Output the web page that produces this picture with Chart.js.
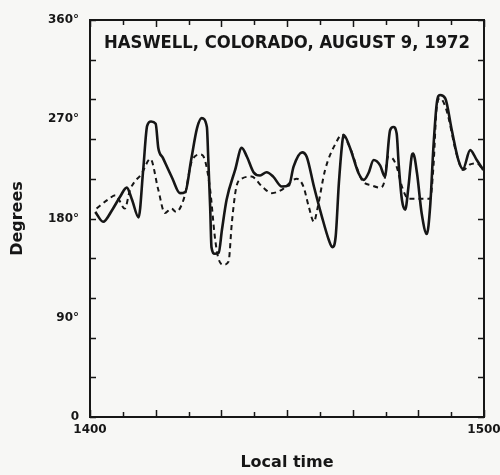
<!DOCTYPE html>
<html><head><meta charset="utf-8">
<script src="https://cdn.jsdelivr.net/npm/chart.js@4"></script>
<style>html,body{margin:0;padding:0;background:#f7f7f5;} #wrap{width:500px;height:475px;}</style>
</head><body><div id="wrap"><canvas id="c" width="500" height="475"></canvas></div>
<script>
// Local time in minutes after 1400, direction in degrees
const solidMinutes = [0.8,2.0,3.4,4.6,5.6,6.4,7.4,8.1,8.7,9.3,10.0,10.4,11.1,12.5,13.7,14.5,15.4,16.3,17.0,17.8,18.0,18.3,18.5,19.0,19.6,20.1,20.8,22.1,23.1,23.9,24.9,25.9,26.9,27.9,29.2,30.3,31.0,32.3,33.0,34.1,35.3,36.4,36.9,37.4,37.9,38.4,38.6,39.6,40.9,41.7,42.4,43.2,44.2,44.9,45.7,46.2,46.7,47.0,47.5,48.0,48.5,49.0,49.2,49.8,50.5,51.3,51.8,52.3,52.8,53.3,54.1,55.1,56.1,56.8,57.9,58.9,59.9];
const solidDegrees = [186,177,188,200,208,197,181,224,264,268,266,244,235,217,203,204,233,262,271,263,236,190,154,148,149,170,197,224,244,236,222,219,222,218,209,210,227,240,236,209,182,160,154,163,212,248,256,244,221,215,221,233,228,218,260,263,257,230,197,188,209,237,239,221,185,166,191,245,284,292,289,260,233,225,242,233,224];
const dashedMinutes = [1.0,2.7,3.9,5.3,6.1,7.9,9.2,10.4,11.4,12.4,13.1,14.4,15.5,16.8,17.5,18.3,19.0,19.5,20.3,21.1,21.6,22.3,23.1,24.6,26.2,27.7,29.2,31.5,32.5,33.3,34.1,34.6,35.8,37.4,38.4,39.6,41.4,42.9,44.2,44.8,45.4,46.0,46.7,47.5,48.5,50.1,51.8,52.3,52.8,53.3,54.3,55.8,56.8,57.9,58.9,59.9];
const dashedDegrees = [189,197,201,189,206,221,234,206,185,189,186,200,232,238,233,206,164,145,138,141,176,209,216,218,209,203,206,216,209,191,177,188,224,248,256,244,215,210,208,213,236,235,227,209,198,198,198,227,281,289,278,239,224,229,230,224];
const yLabelDegrees = [0,90,180,270,360];
const yTickDegrees = [0,36,72,108,144,180,216,252,288,324,360];
const xTickMinutes = [0,5,10,15,20,25,30,35,40,45,50,55,60];
const xLabelMinutes = [0,60];
const xLabelText = ['1400','1500'];
const chartTitle = 'HASWELL, COLORADO, AUGUST 9, 1972';
const ink = '#161616';

const framePlugin = {
  id: 'frame',
  afterDraw(chart) {
    const {ctx, chartArea: a, scales: {x, y}} = chart;
    ctx.save();
    ctx.strokeStyle = ink;
    ctx.lineWidth = 2;
    ctx.strokeRect(a.left, a.top, a.right - a.left, a.bottom - a.top);
    ctx.lineWidth = 1.5;
    ctx.beginPath();
    yTickDegrees.forEach(v => {
      const py = Math.round(y.getPixelForValue(v)) + 0.5;
      ctx.moveTo(a.left, py); ctx.lineTo(a.left + 6, py);
      ctx.moveTo(a.right, py); ctx.lineTo(a.right - 6, py);
    });
    xTickMinutes.forEach(m => {
      const px = Math.round(x.getPixelForValue(m)) + 0.5;
      const len = m % 10 === 0 ? 7 : 5;
      ctx.moveTo(px, a.bottom); ctx.lineTo(px, a.bottom - len);
      ctx.moveTo(px, a.top); ctx.lineTo(px, a.top + len);
    });
    ctx.stroke();
    // title inside frame
    ctx.fillStyle = ink;
    ctx.font = 'bold 17px "DejaVu Sans"';
    ctx.textBaseline = 'middle';
    ctx.textAlign = 'left';
    const w = ctx.measureText(chartTitle).width;
    const target = 366;
    ctx.translate(a.left + 14, a.top + 24);
    ctx.scale(target / w, 1);
    ctx.fillText(chartTitle, 0, 0);
    ctx.restore();
  }
};

new Chart(document.getElementById('c'), {
  type: 'line',
  data: {
    datasets: [
      { data: solidMinutes.map((m, i) => ({x: m, y: solidDegrees[i]})),
        borderColor: ink, borderWidth: 2.6, pointRadius: 0, fill: false,
        cubicInterpolationMode: 'monotone' },
      { data: dashedMinutes.map((m, i) => ({x: m, y: dashedDegrees[i]})),
        borderColor: ink, borderWidth: 2, borderDash: [5, 4], pointRadius: 0, fill: false,
        cubicInterpolationMode: 'monotone' }
    ]
  },
  options: {
    responsive: false,
    animation: false,
    layout: { padding: { top: 20, right: 16, left: 0, bottom: 0 } },
    plugins: { legend: { display: false }, tooltip: { enabled: false } },
    scales: {
      x: {
        type: 'linear', min: 0, max: 60,
        afterBuildTicks: s => { s.ticks = xLabelMinutes.map(v => ({value: v})); },
        afterFit: s => { s.height = 58; s.paddingLeft = 0; s.paddingRight = 0; },
        ticks: { callback: v => xLabelText[xLabelMinutes.indexOf(v)], color: ink,
                 font: { family: 'DejaVu Sans', size: 12, weight: 'bold' }, padding: 6, maxRotation: 0, autoSkip: false },
        grid: { display: false, drawTicks: false },
        border: { display: true, color: ink, width: 2 },
        title: { display: true, text: 'Local time', color: ink,
                 font: { family: 'DejaVu Sans', size: 16, weight: 'bold' }, padding: { top: 0, bottom: 3 } }
      },
      y: {
        min: 0, max: 360,
        afterBuildTicks: s => { s.ticks = yLabelDegrees.map(v => ({value: v})); },
        afterFit: s => { s.width = 90; s.paddingTop = 0; s.paddingBottom = 0; },
        ticks: { callback: v => v === 0 ? '0' : v + '°', color: ink,
                 font: { family: 'DejaVu Sans', size: 12, weight: 'bold' }, padding: 11 },
        grid: { display: false, drawTicks: false },
        border: { display: true, color: ink, width: 2 },
        title: { display: true, text: 'Degrees', color: ink,
                 font: { family: 'DejaVu Sans', size: 16, weight: 'bold' }, padding: { top: 8, bottom: 0 } }
      }
    }
  },
  plugins: [framePlugin]
});
</script>
</body></html>
